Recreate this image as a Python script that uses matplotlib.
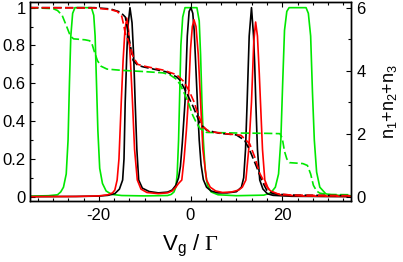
import matplotlib
matplotlib.use("Agg")
import matplotlib.pyplot as plt
from matplotlib.ticker import MultipleLocator

plt.rcParams['font.family'] = ['Liberation Sans', 'DejaVu Sans']
plt.rcParams['mathtext.fontset'] = 'custom'
plt.rcParams['mathtext.rm'] = 'Liberation Sans'
plt.rcParams['mathtext.it'] = 'Liberation Sans'
plt.rcParams['mathtext.bf'] = 'Liberation Serif'

# ---- data ----
# conductance-like curves (left axis)
x_black = [-35, -25, -20, -18, -16.5, -15.5, -14.8, -14.5, -14.24, -13.9, -13.65, -13.2, -12.75, -12.4,
           -12.07, -11.7, -11.3, -10.5, -9, -7, -5, -4, -3.2, -2.6, -2.2, -1.8, -1.2, -0.7, -0.3, 0.1,
           0.5, 0.8, 1.1, 1.5, 1.9, 2.3, 2.8, 3.5, 4.5, 6, 8, 10, 11.1, 11.6, 12.0, 12.35, 12.8, 13.3,
           13.75, 14.0, 14.24, 14.6, 15.1, 15.8, 16.8, 18, 22, 35]
y_black = [0.0, 0.001, 0.003, 0.007, 0.016, 0.04, 0.088, 0.2, 0.5, 0.75, 0.9, 1.0, 0.92, 0.75,
           0.5, 0.25, 0.088, 0.045, 0.027, 0.02, 0.024, 0.035, 0.06, 0.1, 0.16, 0.28, 0.5, 0.85, 0.98, 1.0,
           0.97, 0.88, 0.72, 0.5, 0.3, 0.17, 0.09, 0.05, 0.03, 0.02, 0.02, 0.026, 0.05, 0.1, 0.25, 0.5, 0.85, 1.0,
           0.85, 0.7, 0.5, 0.25, 0.088, 0.04, 0.015, 0.007, 0.002, 0.0]

x_red = [-35, -25, -20, -18, -17, -16.5, -16.0, -15.6, -15.1, -14.7, -14.3, -13.9, -13.5, -13.1,
         -12.65, -12.2, -11.6, -10.8, -9.5, -7, -5, -4, -3.2, -2.6, -1.9, -1.4, -0.9, -0.5, 0.0, 0.4,
         0.76, 1.2, 1.7, 2.2, 2.7, 3.5, 4.3, 5.5, 7, 9, 10.5, 11.3, 12.07, 12.7, 13.3, 13.8, 14.2, 14.6,
         15.0, 15.26, 15.7, 16.2, 17, 18, 20, 25, 35]
y_red = [0.0, 0.001, 0.004, 0.01, 0.02, 0.035, 0.088, 0.2, 0.5, 0.72, 0.88, 0.945, 0.88, 0.72,
         0.5, 0.25, 0.088, 0.04, 0.022, 0.016, 0.02, 0.03, 0.05, 0.07, 0.088, 0.2, 0.35, 0.5, 0.78, 0.9,
         0.936, 0.9, 0.75, 0.5, 0.25, 0.088, 0.05, 0.03, 0.022, 0.025, 0.035, 0.05, 0.088, 0.25, 0.5, 0.82, 0.924, 0.85,
         0.65, 0.5, 0.25, 0.088, 0.04, 0.02, 0.008, 0.003, 0.001]

x_green = [-35, -31, -29, -28.3, -27.7, -27.1, -26.7, -26.4, -26.1, -25.7, -25.2, -21.6, -21.1, -20.8,
           -20.5, -20.2, -19.8, -19.2, -18.4, -17.2, -15, -10, -5, -4.2, -3.6, -3.2, -2.9, -2.6, -2.35,
           -2.1, -1.7, -1.2, 1.4, 1.9, 2.2, 2.5, 2.8, 3.2, 3.7, 4.5, 6, 10, 16, 17.5, 18.5, 19.2, 19.7,
           20.1, 20.5, 21.0, 21.5, 25.2, 25.7, 26.2, 26.6, 27.0, 27.5, 28.2, 29.5, 31, 35]
y_green = [0.003, 0.005, 0.01, 0.025, 0.05, 0.12, 0.3, 0.6, 0.85, 0.97, 1.0, 1.0, 0.96, 0.85,
           0.6, 0.35, 0.15, 0.07, 0.03, 0.012, 0.006, 0.004, 0.006, 0.012, 0.025, 0.05, 0.12, 0.3, 0.55,
           0.8, 0.95, 1.0, 1.0, 0.93, 0.75, 0.5, 0.3, 0.14, 0.06, 0.025, 0.01, 0.005, 0.008, 0.02, 0.05, 0.12, 0.3,
           0.6, 0.88, 0.98, 1.0, 1.0, 0.97, 0.85, 0.55, 0.3, 0.13, 0.05, 0.015, 0.008, 0.005]

# occupation n1+n2+n3 (right axis)
xn_black = [-35, -21, -17.5, -15.3, -14.2, -13.5, -12.5, -11.5, -10.3, -5.2, -3.0, -2.3, -0.8, 0.6,
            2.1, 3.5, 6.4, 10, 11.8, 12.9, 14.4, 15.5, 16.6, 18, 22, 35]
n_black = [6.0, 6.0, 5.96, 5.86, 5.7, 5.1, 4.32, 4.17, 4.12, 3.96, 3.8, 3.7, 3.28, 2.85,
           2.32, 2.11, 2.01, 1.96, 1.79, 1.48, 0.95, 0.53, 0.21, 0.09, 0.05, 0.03]

xn_red = [-35, -21, -17.5, -16, -15, -14.5, -14.2, -13.8, -13.2, -12.5, -11.5, -10, -6, -3, -1.5,
          -0.3, 0.8, 1.7, 2.8, 4, 7, 11, 12.9, 14.0, 15.1, 16.6, 17.5, 19, 22, 35]
n_red = [6.0, 5.99, 5.94, 5.88, 5.73, 5.4, 5.16, 5.04, 4.8, 4.44, 4.2, 4.14, 4.02, 3.87, 3.66,
         3.36, 3.0, 2.58, 2.22, 2.07, 2.01, 1.95, 1.68, 1.26, 0.74, 0.32, 0.18, 0.09, 0.05, 0.03]

xn_green = [-35, -30, -29, -28, -27, -26.2, -25.5, -23, -22, -21.5, -21, -20.3, -19.5, -18.2, -15,
            -10, -6, -4.5, -3, -2.2, -1.6, -0.5, 0.5, 1.3, 2.1, 3.5, 10, 16.6, 19.5, 20.0, 20.5, 21.0,
            21.6, 24.5, 25.5, 26.2, 26.8, 27.5, 28.2, 30, 35]
n_green = [6.0, 5.97, 5.91, 5.76, 5.4, 5.1, 5.01, 4.98, 4.95, 4.86, 4.62, 4.32, 4.14, 4.05, 4.01,
           3.97, 3.93, 3.87, 3.72, 3.54, 3.36, 3.0, 2.58, 2.34, 2.16, 2.04, 2.02, 2.01, 2.0, 1.86, 1.44, 1.2,
           1.08, 1.05, 0.99, 0.72, 0.36, 0.18, 0.11, 0.07, 0.06]

xticks_major = [-20, 0, 20]
yticks_left = [0, 0.2, 0.4, 0.6, 0.8, 1]
yticklabels_left = ['0', '0.2', '0.4', '0.6', '0.8', '1']
yticks_right = [0, 2, 4, 6]

# ---- figure ----
fig = plt.figure(figsize=(4.03, 2.62), dpi=100)
ax = fig.add_axes([30/403, 1 - 201/262, 321/403, 199/262])
ax2 = ax.twinx()

lw = 1.2
GREEN = '#00e800'
ax.plot(x_green, y_green, color=GREEN, lw=lw)
ax.plot(x_black, y_black, color='black', lw=lw)
ax.plot(x_red, y_red, color='#ff0000', lw=lw)

dash = (5, 2)
ax2.plot(xn_green, n_green, color=GREEN, lw=lw, dashes=dash)
ax2.plot(xn_black, n_black, color='black', lw=lw, dashes=dash)
ax2.plot(xn_red, n_red, color='#ff0000', lw=lw, dashes=dash)

ylo, yhi = -0.023, 1.03
ax.set_xlim(-35, 35)
ax.set_ylim(ylo, yhi)
ax2.set_ylim(6 * ylo, 6 * yhi)

ax.set_xticks(xticks_major)
ax.set_xticklabels([str(v) for v in xticks_major])
ax.xaxis.set_minor_locator(MultipleLocator(20/6))
ax.set_yticks(yticks_left)
ax.set_yticklabels(yticklabels_left)
ax.yaxis.set_minor_locator(MultipleLocator(0.1))
ax2.set_yticks(yticks_right)
ax2.set_yticklabels([str(v) for v in yticks_right])
ax2.yaxis.set_minor_locator(MultipleLocator(1))

ax.tick_params(axis='both', which='both', direction='in', labelsize=12, width=0.8)
ax.tick_params(axis='x', which='both', top=True)
ax.tick_params(axis='y', which='both', right=False)
ax.tick_params(which='major', length=3.5)
ax.tick_params(which='minor', length=2)
ax.tick_params(axis='x', pad=5)
ax.tick_params(axis='y', pad=3)
ax2.tick_params(axis='y', which='both', direction='in', labelsize=12, width=0.8, pad=4)
ax2.tick_params(which='major', length=3.5)
ax2.tick_params(which='minor', length=2)

for a in (ax, ax2):
    for s in a.spines.values():
        s.set_linewidth(1.0)

ax.set_xlabel(r'$\mathrm{V}_\mathrm{g}\ /\ \mathbf{\Gamma}$', fontsize=16)
ax.xaxis.set_label_coords(0.5, -0.16)
ax2.set_ylabel(r'$\mathrm{n_1{+}n_2{+}n_3}$', fontsize=13, rotation=90)
ax2.yaxis.set_label_coords(1.095, 0.5)

fig.savefig('out.png', dpi=100)
